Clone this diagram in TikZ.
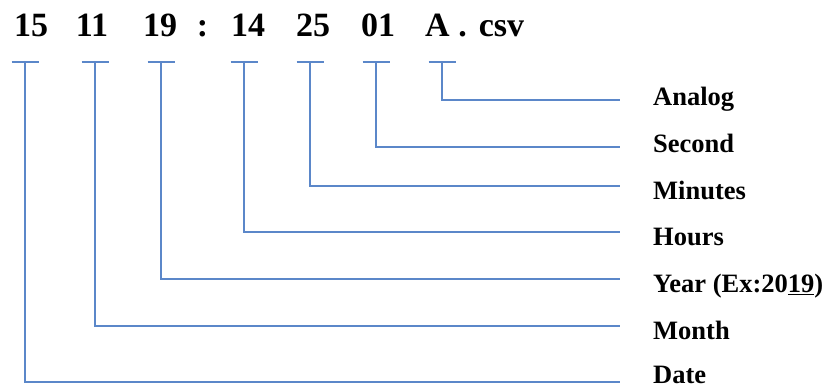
\documentclass[tikz,border=0pt]{standalone}
\usepackage{fontspec}
\setmainfont{Liberation Serif}
\definecolor{lineblue}{HTML}{5B87C9}
\begin{document}
\begin{tikzpicture}[x=1pt,y=-1pt,
  tok/.style={inner sep=0pt,anchor=base,font=\fontsize{34}{40}\selectfont\bfseries},
  lab/.style={inner sep=0pt,anchor=base west,font=\fontsize{26.5}{30}\selectfont\bfseries},
  conn/.style={draw=lineblue,line width=2.5pt,line join=miter},
  tick/.style={draw=lineblue,line width=2.5pt}]
\useasboundingbox (0,0) rectangle (831,390);
% top file name tokens
\node[tok] (n15) at (31,37) {15};
\node[tok] (n11) at (92,37) {11};
\node[tok] (n19) at (160,37) {19};
\node[tok] (ncol) at (202.5,37) {:};
\node[tok] (n14) at (248,37) {14};
\node[tok] (n25) at (313,37) {25};
\node[tok] (n01) at (378,37) {01};
\node[tok] (nA) at (437.5,37) {A};
\node[tok] (ndot) at (462.5,37) {.};
\node[tok] (ncsv) at (501.5,37) {csv};
% tick points
\coordinate (tD) at (25,62);
\coordinate (tMo) at (95,62);
\coordinate (tY) at (161,62);
\coordinate (tH) at (244,62);
\coordinate (tMi) at (310,62);
\coordinate (tS) at (376,62);
\coordinate (tA) at (442,62);
% line ends
\coordinate (eA) at (620,100);
\coordinate (eS) at (620,147);
\coordinate (eMi) at (620,186);
\coordinate (eH) at (620,232);
\coordinate (eY) at (620,279);
\coordinate (eMo) at (620,326);
\coordinate (eD) at (620,382);
% labels
\node[lab] (lA) at (653,106) {Analog};
\node[lab] (lS) at (653,153) {Second};
\node[lab] (lMi) at (653,199.5) {Minutes};
\node[lab] (lH) at (653,246) {Hours};
\node[lab] (lY) at (653,293) {Year (Ex:20\underline{19})};
\node[lab] (lMo) at (653,340) {Month};
\node[lab] (lD) at (653,384) {Date};
% ticks
\foreach \t in {tD,tMo,tY,tH,tMi,tS,tA}
  \draw[tick] ([xshift=-13.5pt]\t) -- ([xshift=13.5pt]\t);
% connectors
\draw[conn] (tA) |- (eA);
\draw[conn] (tS) |- (eS);
\draw[conn] (tMi) |- (eMi);
\draw[conn] (tH) |- (eH);
\draw[conn] (tY) |- (eY);
\draw[conn] (tMo) |- (eMo);
\draw[conn] (tD) |- (eD);
\end{tikzpicture}
\end{document}
